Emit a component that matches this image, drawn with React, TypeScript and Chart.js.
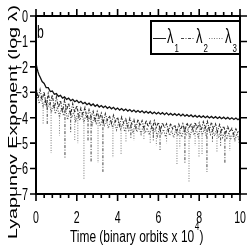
import React, { useEffect, useRef } from "react";
import { Chart, registerables } from "chart.js";
Chart.register(...registerables);

const timeL1 = [0, 0.05, 0.1, 0.15, 0.2, 0.3, 0.4, 0.5, 0.6, 0.7, 0.8, 0.9,
  1.0, 1.1, 1.2, 1.3, 1.4, 1.5, 1.6, 1.7, 1.8, 1.9,
  2.0, 2.1, 2.2, 2.3, 2.4, 2.5, 2.6, 2.7, 2.8, 2.9,
  3.0, 3.1, 3.2, 3.3, 3.4, 3.5, 3.6, 3.7, 3.8, 3.9,
  4.0, 4.1, 4.2, 4.3, 4.4, 4.5, 4.6, 4.7, 4.8, 4.9,
  5.0, 5.1, 5.2, 5.3, 5.4, 5.5, 5.6, 5.7, 5.8, 5.9,
  6.0, 6.1, 6.2, 6.3, 6.4, 6.5, 6.6, 6.7, 6.8, 6.9,
  7.0, 7.1, 7.2, 7.3, 7.4, 7.5, 7.6, 7.7, 7.8, 7.9,
  8.0, 8.1, 8.2, 8.3, 8.4, 8.5, 8.6, 8.7, 8.8, 8.9,
  9.0, 9.1, 9.2, 9.3, 9.4, 9.5, 9.6, 9.7, 9.8, 9.9, 10.0];
const lambda1 = [-1.85, -2.05, -2.2, -2.32, -2.4, -2.58, -2.65, -2.82, -2.82, -2.97, -2.95, -3.08,
  -3.05, -3.16, -3.12, -3.23, -3.18, -3.28, -3.23, -3.33, -3.28, -3.37,
  -3.32, -3.41, -3.36, -3.45, -3.4, -3.49, -3.43, -3.52, -3.46, -3.55,
  -3.49, -3.58, -3.52, -3.6, -3.54, -3.63, -3.57, -3.65, -3.59, -3.68,
  -3.62, -3.7, -3.64, -3.72, -3.66, -3.74, -3.68, -3.76, -3.7, -3.78,
  -3.72, -3.79, -3.73, -3.81, -3.75, -3.82, -3.76, -3.84, -3.78, -3.85,
  -3.79, -3.86, -3.8, -3.88, -3.81, -3.89, -3.83, -3.9, -3.84, -3.91,
  -3.85, -3.93, -3.86, -3.94, -3.88, -3.95, -3.89, -3.97, -3.91, -3.98,
  -3.92, -3.99, -3.93, -4.0, -3.94, -4.01, -3.95, -4.02, -3.96, -4.03,
  -3.97, -4.04, -3.98, -4.05, -3.99, -4.06, -4.0, -4.07, -4.01, -4.08, -4.02];

const timeL2 = [0, 0.1, 0.2, 0.3, 0.4, 0.5, 0.6, 0.7, 0.8, 0.9,
  1.0, 1.1, 1.2, 1.3, 1.4, 1.5, 1.6, 1.7, 1.8, 1.9,
  2.0, 2.1, 2.2, 2.3, 2.4, 2.5, 2.6, 2.7, 2.8, 2.9,
  3.0, 3.1, 3.2, 3.3, 3.4, 3.5, 3.6, 3.7, 3.8, 3.9,
  4.0, 4.1, 4.2, 4.3, 4.4, 4.5, 4.6, 4.7, 4.8, 4.9,
  5.0, 5.1, 5.2, 5.3, 5.4, 5.5, 5.6, 5.7, 5.8, 5.9,
  6.0, 6.1, 6.2, 6.3, 6.4, 6.5, 6.6, 6.7, 6.8, 6.9,
  7.0, 7.1, 7.2, 7.3, 7.4, 7.5, 7.6, 7.7, 7.8, 7.9,
  8.0, 8.1, 8.2, 8.3, 8.4, 8.5, 8.6, 8.7, 8.8, 8.9,
  9.0, 9.1, 9.2, 9.3, 9.4, 9.5, 9.6, 9.7, 9.8, 9.9, 10.0];
const lambda2 = [-2.75, -3.25, -2.9, -3.3, -2.98, -3.55, -3.05, -3.45, -3.1, -3.65,
  -3.18, -3.6, -3.32, -3.78, -3.3, -3.7, -3.42, -3.88, -3.45, -3.8,
  -3.52, -3.95, -3.62, -3.88, -3.6, -4.02, -3.68, -3.96, -3.75, -4.1,
  -3.76, -4.05, -3.82, -4.18, -3.84, -4.1, -3.92, -4.22, -3.9, -4.15,
  -3.98, -4.3, -3.97, -4.22, -4.05, -4.35, -4.02, -4.26, -4.08, -4.4,
  -4.06, -4.32, -4.12, -4.42, -4.1, -4.36, -4.15, -4.45, -4.12, -4.38,
  -4.18, -4.5, -4.2, -4.4, -4.24, -4.52, -4.22, -4.44, -4.28, -4.55,
  -4.26, -4.46, -4.24, -4.52, -4.2, -4.42, -4.22, -4.5, -4.18, -4.44,
  -4.2, -4.5, -4.16, -4.4, -4.14, -4.48, -4.18, -4.42, -4.24, -4.55,
  -4.27, -4.5, -4.33, -4.62, -4.35, -4.56, -4.42, -4.66, -4.44, -4.6, -4.5];
const spike2Times = [0.55, 1.42, 1.7, 2.55, 2.7, 3.28, 4.65, 5.75, 6.08, 7.3, 8.38, 8.65, 9.05, 9.26];
const spike2Tops = [-3.3, -3.7, -3.8, -3.95, -3.95, -4.1, -4.3, -4.4, -4.4, -4.45, -4.45, -4.45, -4.5, -4.55];
const spike2Bottoms = [-4.3, -5.58, -4.6, -4.9, -5.74, -6.13, -4.8, -4.9, -5.27, -5.78, -6.13, -5.0, -5.1, -5.78];

const timeL3 = [0.05, 0.15, 0.25, 0.35, 0.45, 0.55, 0.65, 0.75, 0.85, 0.95,
  1.05, 1.15, 1.25, 1.35, 1.45, 1.55, 1.65, 1.75, 1.85, 1.95,
  2.05, 2.15, 2.25, 2.35, 2.45, 2.55, 2.65, 2.75, 2.85, 2.95,
  3.05, 3.15, 3.25, 3.35, 3.45, 3.55, 3.65, 3.75, 3.85, 3.95,
  4.05, 4.15, 4.25, 4.35, 4.45, 4.55, 4.65, 4.75, 4.85, 4.95,
  5.05, 5.15, 5.25, 5.35, 5.45, 5.55, 5.65, 5.75, 5.85, 5.95,
  6.05, 6.15, 6.25, 6.35, 6.45, 6.55, 6.65, 6.75, 6.85, 6.95,
  7.05, 7.15, 7.25, 7.35, 7.45, 7.55, 7.65, 7.75, 7.85, 7.95,
  8.05, 8.15, 8.25, 8.35, 8.45, 8.55, 8.65, 8.75, 8.85, 8.95,
  9.05, 9.15, 9.25, 9.35, 9.45, 9.55, 9.65, 9.75, 9.85, 9.95];
const lambda3 = [-3.0, -3.45, -3.18, -3.6, -3.28, -3.65, -3.42, -3.8, -3.48, -3.85,
  -3.58, -3.98, -3.62, -3.92, -3.66, -4.08, -3.72, -4.0, -3.78, -4.12,
  -3.82, -4.1, -3.86, -4.18, -3.9, -4.14, -3.96, -4.28, -3.98, -4.22,
  -4.02, -4.33, -4.04, -4.3, -4.12, -4.42, -4.1, -4.38, -4.18, -4.48,
  -4.18, -4.45, -4.24, -4.55, -4.22, -4.5, -4.3, -4.6, -4.28, -4.56,
  -4.35, -4.64, -4.32, -4.6, -4.4, -4.68, -4.38, -4.62, -4.44, -4.72,
  -4.4, -4.66, -4.46, -4.75, -4.44, -4.7, -4.5, -4.78, -4.48, -4.72,
  -4.5, -4.76, -4.44, -4.7, -4.47, -4.75, -4.42, -4.68, -4.45, -4.74,
  -4.4, -4.68, -4.42, -4.75, -4.36, -4.66, -4.44, -4.72, -4.47, -4.8,
  -4.52, -4.78, -4.56, -4.85, -4.58, -4.82, -4.64, -4.9, -4.62, -4.88];
const spike3Times = [0.35, 0.74, 1.15, 1.9, 2.05, 2.35, 3.04, 3.77, 4.17, 4.41, 4.8, 5.29, 5.6,
  5.9, 6.4, 6.91, 7.05, 7.5, 7.8, 7.99, 8.14, 8.87, 9.5, 9.75, 9.95];
const spike3Tops = [-3.4, -3.6, -3.8, -3.95, -4.0, -4.0, -4.1, -4.3, -4.3, -4.4, -4.5, -4.5, -4.55,
  -4.6, -4.6, -4.6, -4.6, -4.6, -4.6, -4.6, -4.6, -4.6, -4.7, -4.7, -4.75];
const spike3Bottoms = [-4.25, -5.39, -4.7, -4.9, -5.0, -6.45, -5.78, -5.58, -5.47, -4.99, -4.9, -4.88, -5.0,
  -5.1, -5.0, -5.86, -5.2, -6.53, -5.1, -5.54, -5.47, -5.35, -5.3, -4.99, -5.0];

const xMajorTicks = [0, 2, 4, 6, 8, 10];
const xMinorTicks = [0.4, 0.8, 1.2, 1.6, 2.4, 2.8, 3.2, 3.6, 4.4, 4.8, 5.2, 5.6,
  6.4, 6.8, 7.2, 7.6, 8.4, 8.8, 9.2, 9.6];
const yMajorTicks = [0, -1, -2, -3, -4, -5, -6, -7];
const xTitle = "Time (binary orbits x 10";
const xTitleSup = "4";
const yTitle = "Lyapunov Exponent (log \u03bb)";
const seriesNames = ["\u03bb", "\u03bb", "\u03bb"];
const seriesSubs = ["1", "2", "3"];
const panelLabel = "b";

const FONT = '"Liberation Sans", Arial, sans-serif';

function drawText(ctx: CanvasRenderingContext2D, s: string, x: number, y: number, size: number,
  sx: number, sy: number, align: CanvasTextAlign, rot = 0) {
  ctx.save();
  ctx.translate(x, y);
  if (rot) ctx.rotate(rot);
  ctx.scale(sx, sy);
  ctx.font = `${size}px ${FONT}`;
  ctx.textAlign = align;
  ctx.textBaseline = "alphabetic";
  ctx.fillStyle = "#000";
  ctx.fillText(s, 0, 0);
  ctx.restore();
}

function spikeData(times: number[], tops: number[], bottoms: number[]) {
  const out: any[] = [];
  times.forEach((t, i) => {
    out.push({ x: t, y: tops[i] }, { x: t, y: bottoms[i] }, { x: t, y: null });
  });
  return out;
}

const framePlugin = {
  id: "frameDecor",
  afterDraw(chart: any) {
    const ctx: CanvasRenderingContext2D = chart.ctx;
    const a = chart.chartArea;
    const xs = chart.scales.x;
    const ys = chart.scales.y;
    ctx.save();
    ctx.strokeStyle = "#000";
    ctx.lineCap = "butt";
    ctx.lineWidth = 1.6;
    ctx.beginPath();
    for (const v of xMinorTicks) {
      const px = xs.getPixelForValue(v);
      ctx.moveTo(px, a.top); ctx.lineTo(px, a.top - 4);
      ctx.moveTo(px, a.bottom); ctx.lineTo(px, a.bottom + 4);
    }
    for (const v of xMajorTicks) {
      const px = xs.getPixelForValue(v);
      ctx.moveTo(px, a.top); ctx.lineTo(px, a.top - 7);
      ctx.moveTo(px, a.bottom); ctx.lineTo(px, a.bottom + 7);
    }
    for (const v of yMajorTicks) {
      const py = ys.getPixelForValue(v);
      ctx.moveTo(a.left, py); ctx.lineTo(a.left - 6, py);
      ctx.moveTo(a.right, py); ctx.lineTo(a.right + 7, py);
    }
    ctx.stroke();
    ctx.lineWidth = 2;
    ctx.strokeRect(a.left, a.top, a.right - a.left, a.bottom - a.top);

    // tick labels
    for (const v of xMajorTicks) {
      drawText(ctx, String(v), xs.getPixelForValue(v), 222.5, 16, 0.66, 1, "center");
    }
    for (const v of yMajorTicks) {
      const s = v === 0 ? "0" : "\u2212" + String(-v);
      drawText(ctx, s, 28, ys.getPixelForValue(v) + 5.8, 16, 0.68, 1, "right");
    }

    // x title
    ctx.font = `16px ${FONT}`;
    const w1 = ctx.measureText(xTitle).width;
    ctx.font = `10px ${FONT}`;
    const w2 = ctx.measureText(xTitleSup).width;
    ctx.font = `16px ${FONT}`;
    const w3 = ctx.measureText(")").width;
    const sxT = 133 / (w1 + w2 + w3 + 1);
    let cx = 70;
    drawText(ctx, xTitle, cx, 241.5, 16, sxT, 1, "left");
    cx += w1 * sxT + 0.5;
    drawText(ctx, xTitleSup, cx, 230, 10, sxT * 1.1, 1, "left");
    cx += w2 * sxT + 0.8;
    drawText(ctx, ")", cx, 241.5, 16, sxT, 1, "left");

    // y title
    ctx.font = `13.5px ${FONT}`;
    const wy = ctx.measureText(yTitle).width;
    drawText(ctx, yTitle, 16.5, 122, 13.5, 234 / wy, 1, "center", -Math.PI / 2);

    // panel label
    drawText(ctx, panelLabel, 37, 37.5, 18, 0.68, 1, "left");

    // legend
    ctx.fillStyle = "#fff";
    ctx.fillRect(151, 21, 88, 32);
    ctx.lineWidth = 2;
    ctx.strokeStyle = "#000";
    ctx.strokeRect(151, 21, 89, 33);
    const samples = [
      { x0: 153, x1: 166, dash: [], color: "#222", w: 1, tx: 167 },
      { x0: 181, x1: 195, dash: [3, 1.5, 1, 1.5], color: "#444", w: 1, tx: 196 },
      { x0: 209, x1: 224, dash: [1, 1.5], color: "#777", w: 1, tx: 225 },
    ];
    samples.forEach((s, i) => {
      ctx.save();
      ctx.strokeStyle = s.color;
      ctx.lineWidth = s.w;
      ctx.setLineDash(s.dash);
      ctx.beginPath();
      ctx.moveTo(s.x0, 38.5); ctx.lineTo(s.x1, 38.5);
      ctx.stroke();
      ctx.restore();
      drawText(ctx, seriesNames[i], s.tx, 42.5, 21, 0.62, 1, "left");
      drawText(ctx, seriesSubs[i], s.tx + 7.5, 52, 11, 0.72, 1, "left");
    });
    ctx.restore();
  },
};

export default function App() {
  const ref = useRef<HTMLCanvasElement>(null);
  useEffect(() => {
    if (!ref.current) return;
    const dash2 = [3, 1.5, 1, 1.5];
    const dash3 = [1, 1.5];
    const chart = new Chart(ref.current, {
      type: "line",
      data: {
        datasets: [
          {
            label: "\u03bb1",
            data: timeL1.map((t, i) => ({ x: t, y: lambda1[i] })),
            borderColor: "#111",
            borderWidth: 1.3,
            pointRadius: 0,
            tension: 0,
          },
          {
            label: "\u03bb2",
            data: timeL2.map((t, i) => ({ x: t, y: lambda2[i] })),
            borderColor: "#2a2a2a",
            borderWidth: 1.1,
            borderDash: dash2,
            pointRadius: 0,
            tension: 0,
          },
          {
            label: "\u03bb2 spikes",
            data: spikeData(spike2Times, spike2Tops, spike2Bottoms),
            borderColor: "#444",
            borderWidth: 1,
            borderDash: dash2,
            pointRadius: 0,
            spanGaps: false,
          },
          {
            label: "\u03bb3",
            data: timeL3.map((t, i) => ({ x: t, y: lambda3[i] })),
            borderColor: "#555",
            borderWidth: 1.1,
            borderDash: dash3,
            pointRadius: 0,
            tension: 0,
          },
          {
            label: "\u03bb3 spikes",
            data: spikeData(spike3Times, spike3Tops, spike3Bottoms),
            borderColor: "#777",
            borderWidth: 1,
            borderDash: dash3,
            pointRadius: 0,
            spanGaps: false,
          },
        ],
      },
      options: {
        animation: false,
        responsive: false,
        devicePixelRatio: 1,
        events: [],
        layout: { padding: { left: 36, right: 9, top: 16, bottom: 55 } },
        scales: {
          x: { type: "linear", min: 0, max: 10, display: false },
          y: { type: "linear", min: -7, max: 0, display: false },
        },
        plugins: { legend: { display: false }, tooltip: { enabled: false } },
      },
      plugins: [framePlugin],
    });
    return () => chart.destroy();
  }, []);
  return (
    <div style={{ position: "fixed", left: 0, top: 0, width: 249, height: 249, background: "#fff" }}>
      <canvas ref={ref} width={249} height={249} style={{ display: "block", width: 249, height: 249 }} />
    </div>
  );
}
